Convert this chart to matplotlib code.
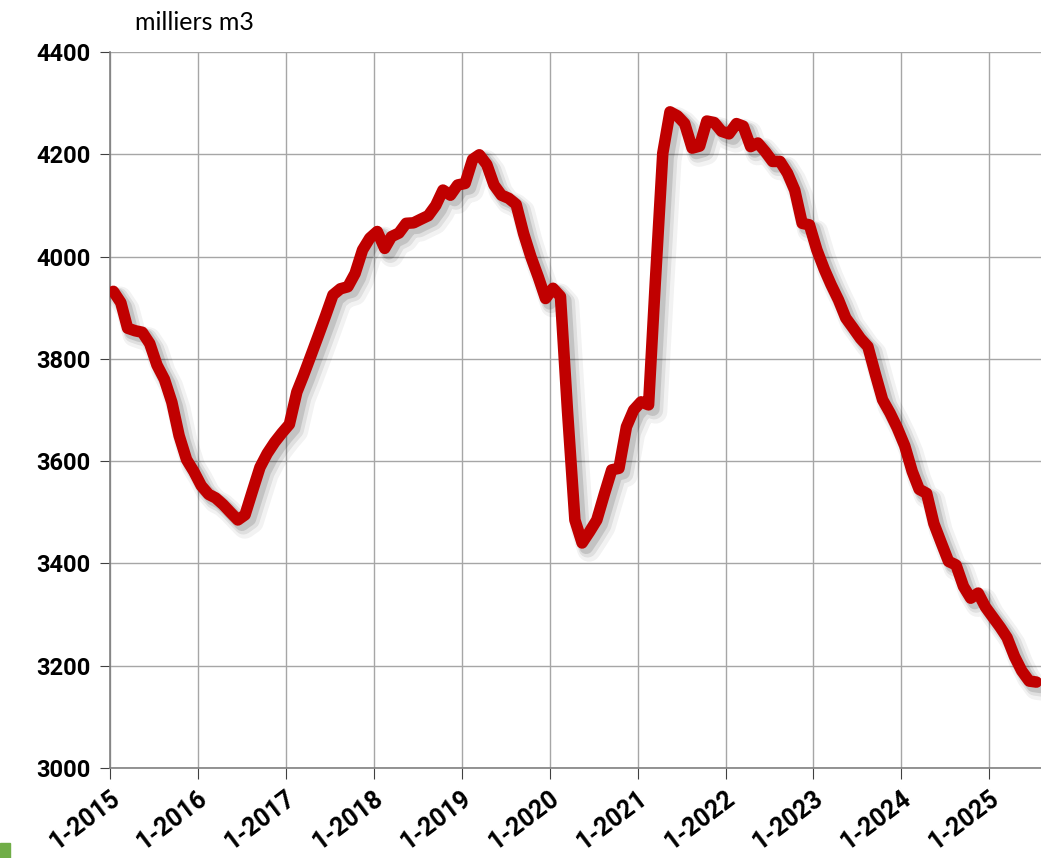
import matplotlib
matplotlib.use("Agg")
import matplotlib.pyplot as plt
import matplotlib.patheffects as pe
import pandas as pd

plt.rcParams["font.family"] = ["Lato", "DejaVu Sans"]

# monthly values, Jan 2015 -> Jul 2025 (milliers m3)
values_2015_2017 = [
    3932, 3910, 3860, 3855, 3852, 3830, 3788, 3760, 3715, 3650, 3603, 3580,
    3552, 3535, 3528, 3515, 3500, 3485, 3495, 3542, 3588, 3615, 3637, 3655,
    3672, 3735, 3768, 3807, 3845, 3885, 3925, 3937, 3941, 3967, 4013, 4036,
]
values_2018_2020 = [
    4049, 4016, 4039, 4046, 4065, 4066, 4073, 4080, 4100, 4130, 4120, 4140,
    4143, 4190, 4199, 4180, 4140, 4120, 4114, 4102, 4045, 4000, 3960, 3918,
    3938, 3922, 3700, 3485, 3440, 3462, 3485, 3535, 3583, 3586, 3667, 3700,
]
values_2021_2023 = [
    3716, 3710, 3950, 4202, 4283, 4275, 4260, 4212, 4216, 4265, 4262, 4245,
    4240, 4260, 4255, 4215, 4222, 4205, 4186, 4186, 4163, 4130, 4065, 4062,
    4013, 3975, 3945, 3915, 3880, 3860, 3840, 3824, 3770, 3720, 3694, 3665,
]
values_2024_2025 = [
    3630, 3580, 3545, 3537, 3478, 3440, 3404, 3397, 3355, 3332, 3342, 3315,
    3295, 3275, 3255, 3218, 3190, 3170, 3168,
]
values = values_2015_2017 + values_2018_2020 + values_2021_2023 + values_2024_2025

y_ticks = [3000, 3200, 3400, 3600, 3800, 4000, 4200, 4400]
tick_years = list(range(2015, 2026))
unit_label = "milliers m3"

# points sit mid-month
dates = pd.date_range("2015-01-01", periods=len(values), freq="MS") + pd.Timedelta(days=14)

fig = plt.figure(figsize=(10.41, 8.58), dpi=100)
ax = fig.add_axes([110 / 1041, 1 - 768 / 858, 1 - 110 / 1041, (768 - 52) / 858])

# soft drop shadow, down-right
shadow = [
    pe.SimpleLineShadow(offset=(5, -5), shadow_color="#000000", alpha=0.05, linewidth=17),
    pe.SimpleLineShadow(offset=(4, -4), shadow_color="#000000", alpha=0.08, linewidth=13),
    pe.SimpleLineShadow(offset=(3, -3), shadow_color="#000000", alpha=0.12, linewidth=10),
    pe.Normal(),
]
ax.plot(dates, values, color="#C00000", linewidth=8.3, solid_capstyle="round",
        solid_joinstyle="round", path_effects=shadow, zorder=3)

ax.set_ylim(3000, 4400)
ax.set_xlim(pd.Timestamp("2015-01-01"), pd.Timestamp("2025-08-03"))
ax.set_yticks(y_ticks)
ax.set_yticklabels([str(v) for v in y_ticks], fontsize=17, fontweight="bold",
                   family=["Roboto", "DejaVu Sans"])

xt = [pd.Timestamp(f"{y}-01-01") for y in tick_years]
ax.set_xticks(xt)
ax.set_xticklabels([f"1-{y}" for y in tick_years], fontsize=18, fontweight="bold",
                   family=["Roboto", "DejaVu Sans"],
                   rotation=37, ha="right", rotation_mode="anchor")

ax.grid(True, color="#A6A6A6", linewidth=1)
ax.set_axisbelow(True)
for side in ("top", "right"):
    ax.spines[side].set_visible(False)
for side in ("left", "bottom"):
    ax.spines[side].set_color("#808080")
    ax.spines[side].set_linewidth(1.2)
ax.tick_params(axis="y", length=7, color="#404040", pad=7)
ax.tick_params(axis="x", length=8, color="#404040", pad=5)

fig.text(135 / 1041, 1 - 22 / 858, unit_label, fontsize=18, va="center", ha="left")

fig.patches.append(plt.Rectangle((0, 0), 10 / 1041, 15 / 858, transform=fig.transFigure,
                                 color="#70AD47", figure=fig))

fig.savefig("out.png", dpi=100)
